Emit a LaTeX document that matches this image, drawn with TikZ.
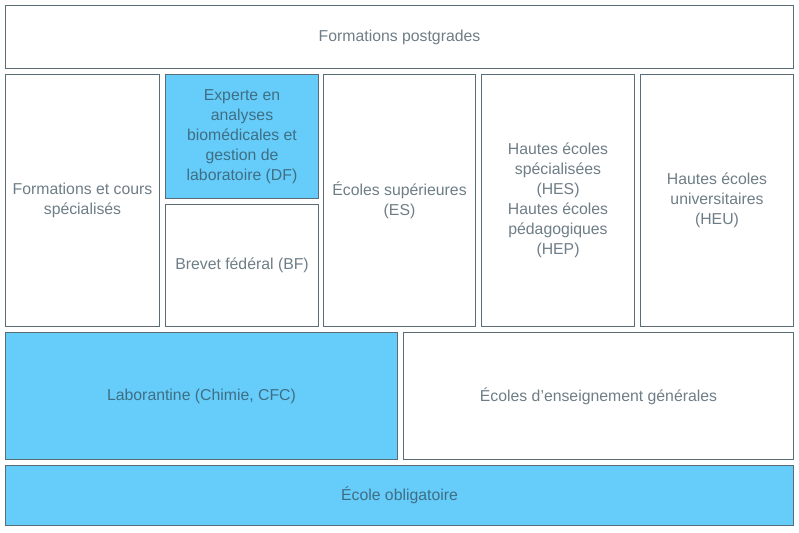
\documentclass[tikz,border=0pt]{standalone}
\usepackage{fontspec}
\setmainfont{Liberation Sans}
\usetikzlibrary{shapes}
\definecolor{edgegrey}{HTML}{5A6D77}
\definecolor{textgrey}{HTML}{6E7D86}
\definecolor{skyfill}{HTML}{66CDFA}
\definecolor{skytext}{HTML}{3F6E84}

\begin{document}
\begin{tikzpicture}[x=1pt,y=-1pt,
  level/.style={shape=rectangle,draw=edgegrey,line width=1.8pt,align=center,inner sep=2pt,
    text=textgrey,font=\fontsize{15.8}{20}\selectfont},
  blue/.style={level,fill=skyfill,text=skytext}]
\useasboundingbox (0,0) rectangle (799,532);
\node[level,minimum width=788pt,minimum height=63pt] (0) at (399.5,37) {Formations postgrades};
\node[level,minimum width=154pt,minimum height=252pt] (1) at (82.5,200.5) {Formations et cours\\spécialisés};
\node[blue,minimum width=153pt,minimum height=124pt] (2) at (242,136.5) {Experte en\\analyses\\biomédicales et\\gestion de\\laboratoire (DF)};
\node[level,minimum width=153pt,minimum height=122pt] (3) at (242,265.5) {Brevet fédéral (BF)};
\node[level,minimum width=152pt,minimum height=252pt] (4) at (399.5,200.5) {Écoles supérieures\\(ES)};
\node[level,minimum width=153pt,minimum height=252pt] (5) at (558,200.5) {Hautes écoles\\spécialisées\\(HES)\\Hautes écoles\\pédagogiques\\(HEP)};
\node[level,minimum width=153pt,minimum height=252pt] (6) at (717,200.5) {Hautes écoles\\universitaires\\(HEU)};
\node[blue,minimum width=392pt,minimum height=127pt] (7) at (201.5,396) {Laborantine (Chimie, CFC)};
\node[level,minimum width=390pt,minimum height=127pt] (8) at (598.5,396) {Écoles d’enseignement générales};
\node[blue,minimum width=788pt,minimum height=60pt] (9) at (399.5,495.5) {École obligatoire};
\end{tikzpicture}
\end{document}
